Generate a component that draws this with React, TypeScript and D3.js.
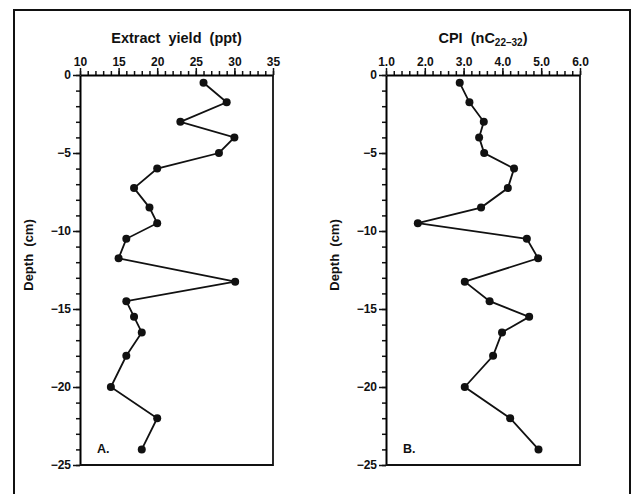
import React, { useRef, useEffect } from "react";
import * as d3 from "d3";

// depth of each sample (cm), shared by both panels
const depths = [-0.5, -1.75, -3, -4, -5, -6, -7.25, -8.5, -9.5, -10.5, -11.75, -13.25, -14.5, -15.5, -16.5, -18, -20, -22, -24];
// panel A: extract yield (ppt)
const extractYield = [26, 29, 23, 30, 28, 20, 17, 19, 20, 16, 15, 30.1, 16, 17, 18, 16, 14, 20, 18];
// panel B: CPI (nC22-32)
const cpi = [2.9, 3.15, 3.52, 3.4, 3.53, 4.3, 4.14, 3.45, 1.82, 4.63, 4.92, 3.03, 3.67, 4.69, 3.99, 3.76, 3.03, 4.2, 4.93];

const yieldTicks = [10, 15, 20, 25, 30, 35];
const cpiTicks = [1, 2, 3, 4, 5, 6];
const depthTicks = [0, -5, -10, -15, -20, -25];

const FONT = "'Liberation Sans', Arial, Helvetica, sans-serif";

const App = () => {
  const ref = useRef<SVGSVGElement>(null);

  useEffect(() => {
    const svg = d3.select(ref.current);
    svg.selectAll("*").remove();

    // outer frame
    svg.append("rect")
      .attr("x", 14).attr("y", 10)
      .attr("width", 616).attr("height", 510)
      .attr("fill", "none").attr("stroke", "#111").attr("stroke-width", 2);

    const top = 75, bottom = 465;
    const y = d3.scaleLinear().domain([0, -25]).range([top, bottom]);

    const drawPanel = (opts: {
      left: number; right: number; xDomain: [number, number]; majors: number[];
      minorStep: number; fmt: (d: number) => string; values: number[]; letter: string;
      title: (g: any) => void;
    }) => {
      const x = d3.scaleLinear().domain(opts.xDomain).range([opts.left, opts.right]);
      const g = svg.append("g");

      // minor ticks on top
      const minors = d3.range(opts.xDomain[0], opts.xDomain[1] + 1e-9, opts.minorStep);
      g.append("g")
        .attr("transform", `translate(0,${top})`)
        .call(d3.axisTop(x).tickValues(minors).tickSize(4).tickFormat(() => "").tickSizeOuter(0))
        .call((s: any) => s.select(".domain").remove());
      // major ticks on top
      g.append("g")
        .attr("transform", `translate(0,${top})`)
        .call(d3.axisTop(x).tickValues(opts.majors).tickSize(7).tickPadding(2).tickFormat(opts.fmt as any).tickSizeOuter(0))
        .call((s: any) => s.select(".domain").attr("stroke-width", 2));

      // left depth axis
      g.append("g")
        .attr("transform", `translate(${opts.left},0)`)
        .call(d3.axisLeft(y).tickValues(d3.range(0, -26, -1)).tickSize(4).tickFormat(() => "").tickSizeOuter(0))
        .call((s: any) => s.select(".domain").remove());
      g.append("g")
        .attr("transform", `translate(${opts.left},0)`)
        .call(d3.axisLeft(y).tickValues(depthTicks).tickSize(7).tickPadding(2)
          .tickFormat((d: any) => (d < 0 ? "\u2212" + Math.abs(d) : String(d))).tickSizeOuter(0))
        .call((s: any) => s.select(".domain").attr("stroke-width", 2));

      g.selectAll(".tick line").attr("stroke", "#111").attr("stroke-width", 1.5);
      g.selectAll(".tick text")
        .attr("fill", "#111")
        .style("font-family", FONT).style("font-size", "12px").style("font-weight", "bold");

      // right and bottom frame
      g.append("path")
        .attr("d", `M${opts.right},${top}V${bottom}H${opts.left}`)
        .attr("fill", "none").attr("stroke", "#111").attr("stroke-width", 1.8);

      // data
      const pts = opts.values.map((v, i) => [x(v), y(depths[i])] as [number, number]);
      g.append("path")
        .attr("d", d3.line()(pts))
        .attr("fill", "none").attr("stroke", "#111").attr("stroke-width", 1.8);
      g.selectAll("circle.pt")
        .data(pts)
        .join("circle")
        .attr("class", "pt")
        .attr("cx", d => d[0]).attr("cy", d => d[1])
        .attr("r", 4).attr("fill", "#111");

      // title
      const t = g.append("text")
        .attr("x", (opts.left + opts.right) / 2).attr("y", 43)
        .attr("text-anchor", "middle")
        .style("font-family", FONT).style("font-size", "14.5px").style("font-weight", "bold")
        .style("white-space", "pre").attr("fill", "#111");
      opts.title(t);

      // y label
      g.append("text")
        .attr("transform", `translate(${opts.left - 47},${(top + bottom) / 2 - 15}) rotate(-90)`)
        .attr("text-anchor", "middle")
        .style("font-family", FONT).style("font-size", "13px").style("font-weight", "bold")
        .style("white-space", "pre").attr("fill", "#111")
        .text("Depth  (cm)");

      // panel letter
      g.append("text")
        .attr("x", opts.left + 17).attr("y", y(-24) + 4)
        .style("font-family", FONT).style("font-size", "12.5px").style("font-weight", "bold")
        .attr("fill", "#111")
        .text(opts.letter);
    };

    drawPanel({
      left: 80, right: 273, xDomain: [10, 35], majors: yieldTicks, minorStep: 1,
      fmt: (d: number) => String(d), values: extractYield, letter: "A.",
      title: (t) => t.text("Extract  yield  (ppt)"),
    });

    drawPanel({
      left: 386, right: 580, xDomain: [1, 6], majors: cpiTicks, minorStep: 0.2,
      fmt: (d: number) => d.toFixed(1), values: cpi, letter: "B.",
      title: (t) => {
        t.append("tspan").text("CPI  (nC");
        t.append("tspan").attr("dy", 3).style("font-size", "10px").text("22\u201332");
        t.append("tspan").attr("dy", -3).text(")");
      },
    });
  }, []);

  return (
    <svg ref={ref} width={633} height={494}
      style={{ position: "absolute", left: 0, top: 0, background: "#fff" }} />
  );
};

export default App;
